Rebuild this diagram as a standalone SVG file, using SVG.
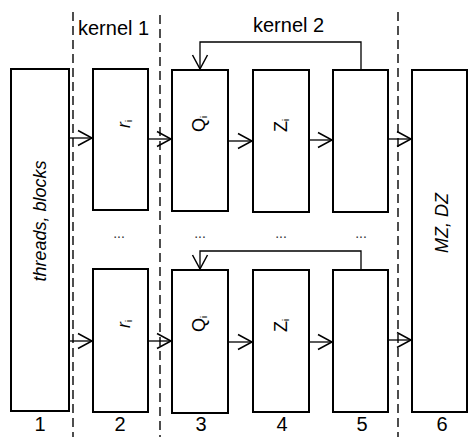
<svg xmlns="http://www.w3.org/2000/svg" width="470" height="437" viewBox="0 0 470 437">
<style>
.box{fill:#fff;stroke:#000;stroke-width:2}
.con{fill:none;stroke:#000;stroke-width:1.3}
.dash{fill:none;stroke:#222;stroke-width:1.6;stroke-dasharray:9,5}
text{font-family:"Liberation Sans",Arial,sans-serif;fill:#000}
.lbl{font-size:20px}
.num{font-size:20px;text-anchor:middle}
.rot{font-size:18px}
.it{font-style:italic}
.dots{font-size:14px;text-anchor:middle;fill:#333}
.sub{font-size:9px}
</style>
<defs>
<marker id="ah" markerUnits="userSpaceOnUse" markerWidth="30" markerHeight="30" refX="0" refY="0" orient="auto" overflow="visible">
<path d="M-14,-7.5 L0,0 L-14,7.5" fill="none" stroke="#000" stroke-width="1.5"/>
</marker>
</defs>
<g id="dashes">
<line class="dash" x1="73" y1="12" x2="73" y2="437"/>
<line class="dash" x1="160" y1="15" x2="160" y2="437"/>
<line class="dash" x1="398" y1="12" x2="398" y2="437"/>
</g>
<text class="lbl" x="78" y="35">kernel 1</text>
<text class="lbl" x="253" y="32">kernel 2</text>
<g id="n1"><rect class="box" x="11" y="69" width="58" height="342"/>
<text class="rot it" text-anchor="middle" transform="translate(46,221) rotate(-90)">threads, blocks</text></g>
<g id="n2a"><rect class="box" x="93" y="69" width="55" height="141"/>
<text class="rot" transform="translate(130,128) rotate(-90)"><tspan class="it">r</tspan><tspan class="sub" dy="2">i</tspan></text></g>
<g id="n2b"><rect class="box" x="93" y="269" width="55" height="143"/>
<text class="rot" transform="translate(130,328) rotate(-90)"><tspan class="it">r</tspan><tspan class="sub" dy="2">i</tspan></text></g>
<g id="n3a"><rect class="box" x="172" y="70" width="56" height="141"/>
<text class="rot" font-size="17" transform="translate(205,132) rotate(-90)">Q<tspan class="sub" dy="2">i</tspan></text></g>
<g id="n3b"><rect class="box" x="172" y="270" width="56" height="143"/>
<text class="rot" font-size="17" transform="translate(205,332) rotate(-90)">Q<tspan class="sub" dy="2">i</tspan></text></g>
<g id="n4a"><rect class="box" x="253" y="70" width="56" height="142"/>
<text class="rot" transform="translate(287,132) rotate(-90)">Z<tspan class="sub" dy="2">i</tspan></text></g>
<g id="n4b"><rect class="box" x="253" y="270" width="56" height="142"/>
<text class="rot" transform="translate(287,332) rotate(-90)">Z<tspan class="sub" dy="2">i</tspan></text></g>
<g id="n5a"><rect class="box" x="333" y="70" width="55" height="142"/></g>
<g id="n5b"><rect class="box" x="333" y="270" width="55" height="142"/></g>
<g id="n6"><rect class="box" x="412" y="70" width="55" height="342"/>
<text class="rot it" text-anchor="middle" transform="translate(448,223) rotate(-90)">MZ, DZ</text></g>
<g id="connectors">
<line class="con" x1="69" y1="138" x2="92" y2="138" marker-end="url(#ah)"/>
<line class="con" x1="148" y1="139" x2="171" y2="139" marker-end="url(#ah)"/>
<line class="con" x1="228" y1="141" x2="252" y2="141" marker-end="url(#ah)"/>
<line class="con" x1="309" y1="140" x2="332" y2="140" marker-end="url(#ah)"/>
<line class="con" x1="388" y1="139" x2="411" y2="139" marker-end="url(#ah)"/>
<line class="con" x1="69" y1="341" x2="92" y2="341" marker-end="url(#ah)"/>
<line class="con" x1="148" y1="341" x2="171" y2="341" marker-end="url(#ah)"/>
<line class="con" x1="228" y1="342" x2="252" y2="342" marker-end="url(#ah)"/>
<line class="con" x1="309" y1="342" x2="332" y2="342" marker-end="url(#ah)"/>
<line class="con" x1="388" y1="340" x2="411" y2="340" marker-end="url(#ah)"/>
<polyline class="con" points="361,70 361,42 200,42 200,69" marker-end="url(#ah)"/>
<polyline class="con" points="361,270 361,251 200,251 200,269" marker-end="url(#ah)"/>
</g>
<g id="dotsrow">
<text class="dots" x="119" y="238">...</text>
<text class="dots" x="200" y="238">...</text>
<text class="dots" x="281" y="238">...</text>
<text class="dots" x="361" y="238">...</text>
</g>
<g id="numbers">
<text class="num" x="40" y="431">1</text>
<text class="num" x="120" y="431">2</text>
<text class="num" x="201" y="431">3</text>
<text class="num" x="282" y="431">4</text>
<text class="num" x="362" y="431">5</text>
<text class="num" x="442" y="431">6</text>
</g>
</svg>
